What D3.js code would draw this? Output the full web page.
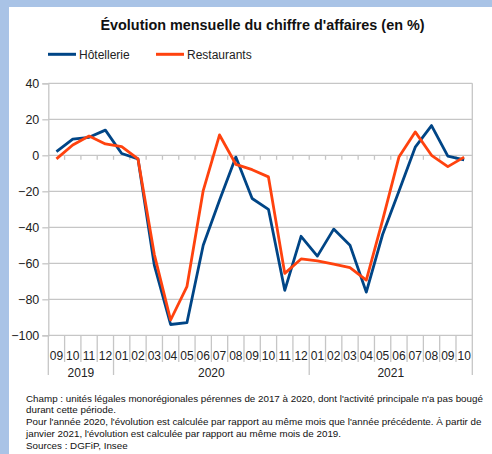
<!DOCTYPE html>
<html>
<head>
<meta charset="utf-8">
<script src="https://cdn.jsdelivr.net/npm/d3@7/dist/d3.min.js"></script>
<style>
  html, body { margin: 0; padding: 0; background: #a9c3e6; }
  #chart { position: absolute; left: 9px; top: 7px; }
</style>
</head>
<body>
<svg id="chart" width="483" height="447"></svg>
<script>
(function(){

  var months = ['09','10','11','12','01','02','03','04','05','06','07','08','09','10','11','12',
                '01','02','03','04','05','06','07','08','09','10'];
  var years = [
    {label: '2019', from: 0, to: 4},
    {label: '2020', from: 4, to: 16},
    {label: '2021', from: 16, to: 26}
  ];
  var hotellerie = [2, 9, 10, 14, 1, -2, -61, -94, -93, -50, -25, -1, -24, -30, -75, -45,
                    -56, -41, -50, -76, -44, -20, 4.5, 16.5, -0.5, -2.5];
  var restaurants = [-2, 5.7, 10.7, 6.3, 4.8, -2, -55, -91.5, -73, -19.6, 11.3, -5, -8, -12, -65.6, -57.6,
                     -58.7, -60.5, -62.4, -69.3, -36, -1, 13, 0, -6.3, -1];
  var yTicks = [40, 20, 0, -20, -40, -60, -80, -100];
  var notes = [
    "Champ : unités légales monorégionales pérennes de 2017 à 2020, dont l'activité principale n'a pas bougé",
    "durant cette période.",
    "Pour l'année 2020, l'évolution est calculée par rapport au même mois que l'année précédente. À partir de",
    "janvier 2021, l'évolution est calculée par rapport au même mois de 2019.",
    "Sources : DGFiP, Insee"
  ];

  // offsets: svg sits at (9,7) in the page
  var ox = 9, oy = 7;
  var left = 48.3 - ox, right = 472.3 - ox;
  var top = 83.3 - oy, bottom = 335.3 - oy;

  var svg = d3.select('#chart');
  svg.append('rect').attr('width', 483).attr('height', 447).attr('fill', '#ffffff');

  var x = d3.scaleBand().domain(d3.range(months.length)).range([left, right]).padding(0);
  var y = d3.scaleLinear().domain([-100, 40]).range([bottom, top]);
  var gridColor = '#c6c6c6';

  // title
  svg.append('text')
    .attr('x', 262.5 - ox).attr('y', 30 - oy)
    .attr('text-anchor', 'middle')
    .attr('font-family', 'Liberation Sans, Arial, sans-serif')
    .attr('font-weight', 'bold')
    .attr('font-size', '14.4px')
    .attr('fill', '#111')
    .text("Évolution mensuelle du chiffre d'affaires (en %)");

  // legend
  var legend = [
    {name: 'Hôtellerie', color: '#004586', x: 48},
    {name: 'Restaurants', color: '#ff420e', x: 156}
  ];
  var lg = svg.selectAll('g.legend').data(legend).enter().append('g').attr('class', 'legend');
  lg.append('line')
    .attr('x1', function(d){ return d.x - ox; })
    .attr('x2', function(d){ return d.x + 28 - ox; })
    .attr('y1', 54.3 - oy).attr('y2', 54.3 - oy)
    .attr('stroke', function(d){ return d.color; })
    .attr('stroke-width', 3);
  lg.append('text')
    .attr('x', function(d){ return d.x + 31 - ox; })
    .attr('y', 58.5 - oy)
    .attr('font-family', 'Liberation Sans, Arial, sans-serif')
    .attr('font-size', '12px')
    .attr('fill', '#222')
    .text(function(d){ return d.name; });

  // horizontal gridlines
  svg.selectAll('line.grid').data(yTicks).enter().append('line')
    .attr('class', 'grid')
    .attr('x1', left).attr('x2', right)
    .attr('y1', function(d){ return y(d); })
    .attr('y2', function(d){ return y(d); })
    .attr('stroke', gridColor).attr('stroke-width', 1.3);

  // y axis
  var yAxis = svg.append('g')
    .attr('transform', 'translate(' + left + ',0)')
    .call(d3.axisLeft(y).tickValues(yTicks).tickSize(6).tickPadding(3));
  yAxis.select('.domain').attr('stroke', gridColor).attr('stroke-width', 1.3);
  yAxis.selectAll('.tick line').attr('stroke', gridColor).attr('stroke-width', 1.3);
  yAxis.selectAll('.tick text')
    .attr('font-family', 'Liberation Sans, Arial, sans-serif')
    .attr('font-size', '12.5px')
    .attr('fill', '#222');

  // right border
  svg.append('line')
    .attr('x1', right).attr('x2', right)
    .attr('y1', top).attr('y2', 375 - oy)
    .attr('stroke', gridColor).attr('stroke-width', 1.3);

  // small ticks hanging from the zero line
  var bounds = d3.range(1, months.length).map(function(i){ return x(i); });
  svg.selectAll('line.zt').data(bounds).enter().append('line')
    .attr('class', 'zt')
    .attr('x1', function(d){ return d; }).attr('x2', function(d){ return d; })
    .attr('y1', y(0)).attr('y2', y(0) + 4.5)
    .attr('stroke', gridColor).attr('stroke-width', 1.3);

  // category separators below the plot
  var yearEdges = [0, 4, 16];
  svg.selectAll('line.sep').data(d3.range(0, months.length)).enter().append('line')
    .attr('class', 'sep')
    .attr('x1', function(i){ return x(i); }).attr('x2', function(i){ return x(i); })
    .attr('y1', bottom)
    .attr('y2', function(i){ return yearEdges.indexOf(i) >= 0 ? 375 - oy : 362 - oy; })
    .attr('stroke', gridColor).attr('stroke-width', 1.3);

  // month labels
  var xAxis = svg.append('g')
    .attr('transform', 'translate(0,' + bottom + ')')
    .call(d3.axisBottom(x).tickSize(0).tickPadding(0).tickFormat(function(i){ return months[i]; }));
  xAxis.select('.domain').remove();
  xAxis.selectAll('.tick text')
    .attr('dy', null)
    .attr('y', 360 - 335.3)
    .attr('font-family', 'Liberation Sans, Arial, sans-serif')
    .attr('font-size', '12px')
    .attr('fill', '#222');

  // year labels
  svg.selectAll('text.year').data(years).enter().append('text')
    .attr('class', 'year')
    .attr('x', function(d){ return (x(d.from) + (d.to < months.length ? x(d.to) : right)) / 2; })
    .attr('y', 377 - oy)
    .attr('text-anchor', 'middle')
    .attr('font-family', 'Liberation Sans, Arial, sans-serif')
    .attr('font-size', '12px')
    .attr('fill', '#222')
    .text(function(d){ return d.label; });

  // series
  var line = d3.line()
    .x(function(d, i){ return x(i) + x.bandwidth() / 2; })
    .y(function(d){ return y(d); });

  svg.append('path').datum(hotellerie)
    .attr('d', line).attr('fill', 'none')
    .attr('stroke', '#004586').attr('stroke-width', 2.8)
    .attr('stroke-linejoin', 'round');
  svg.append('path').datum(restaurants)
    .attr('d', line).attr('fill', 'none')
    .attr('stroke', '#ff420e').attr('stroke-width', 2.8)
    .attr('stroke-linejoin', 'round');

  // footnote
  svg.selectAll('text.note').data(notes).enter().append('text')
    .attr('class', 'note')
    .attr('x', 26 - ox)
    .attr('y', function(d, i){ return 401.5 + i * 11.8 - oy; })
    .attr('font-family', 'Liberation Sans, Arial, sans-serif')
    .attr('font-size', '9.8px')
    .attr('fill', '#111')
    .text(function(d){ return d; });

})();
</script>
</body>
</html>
